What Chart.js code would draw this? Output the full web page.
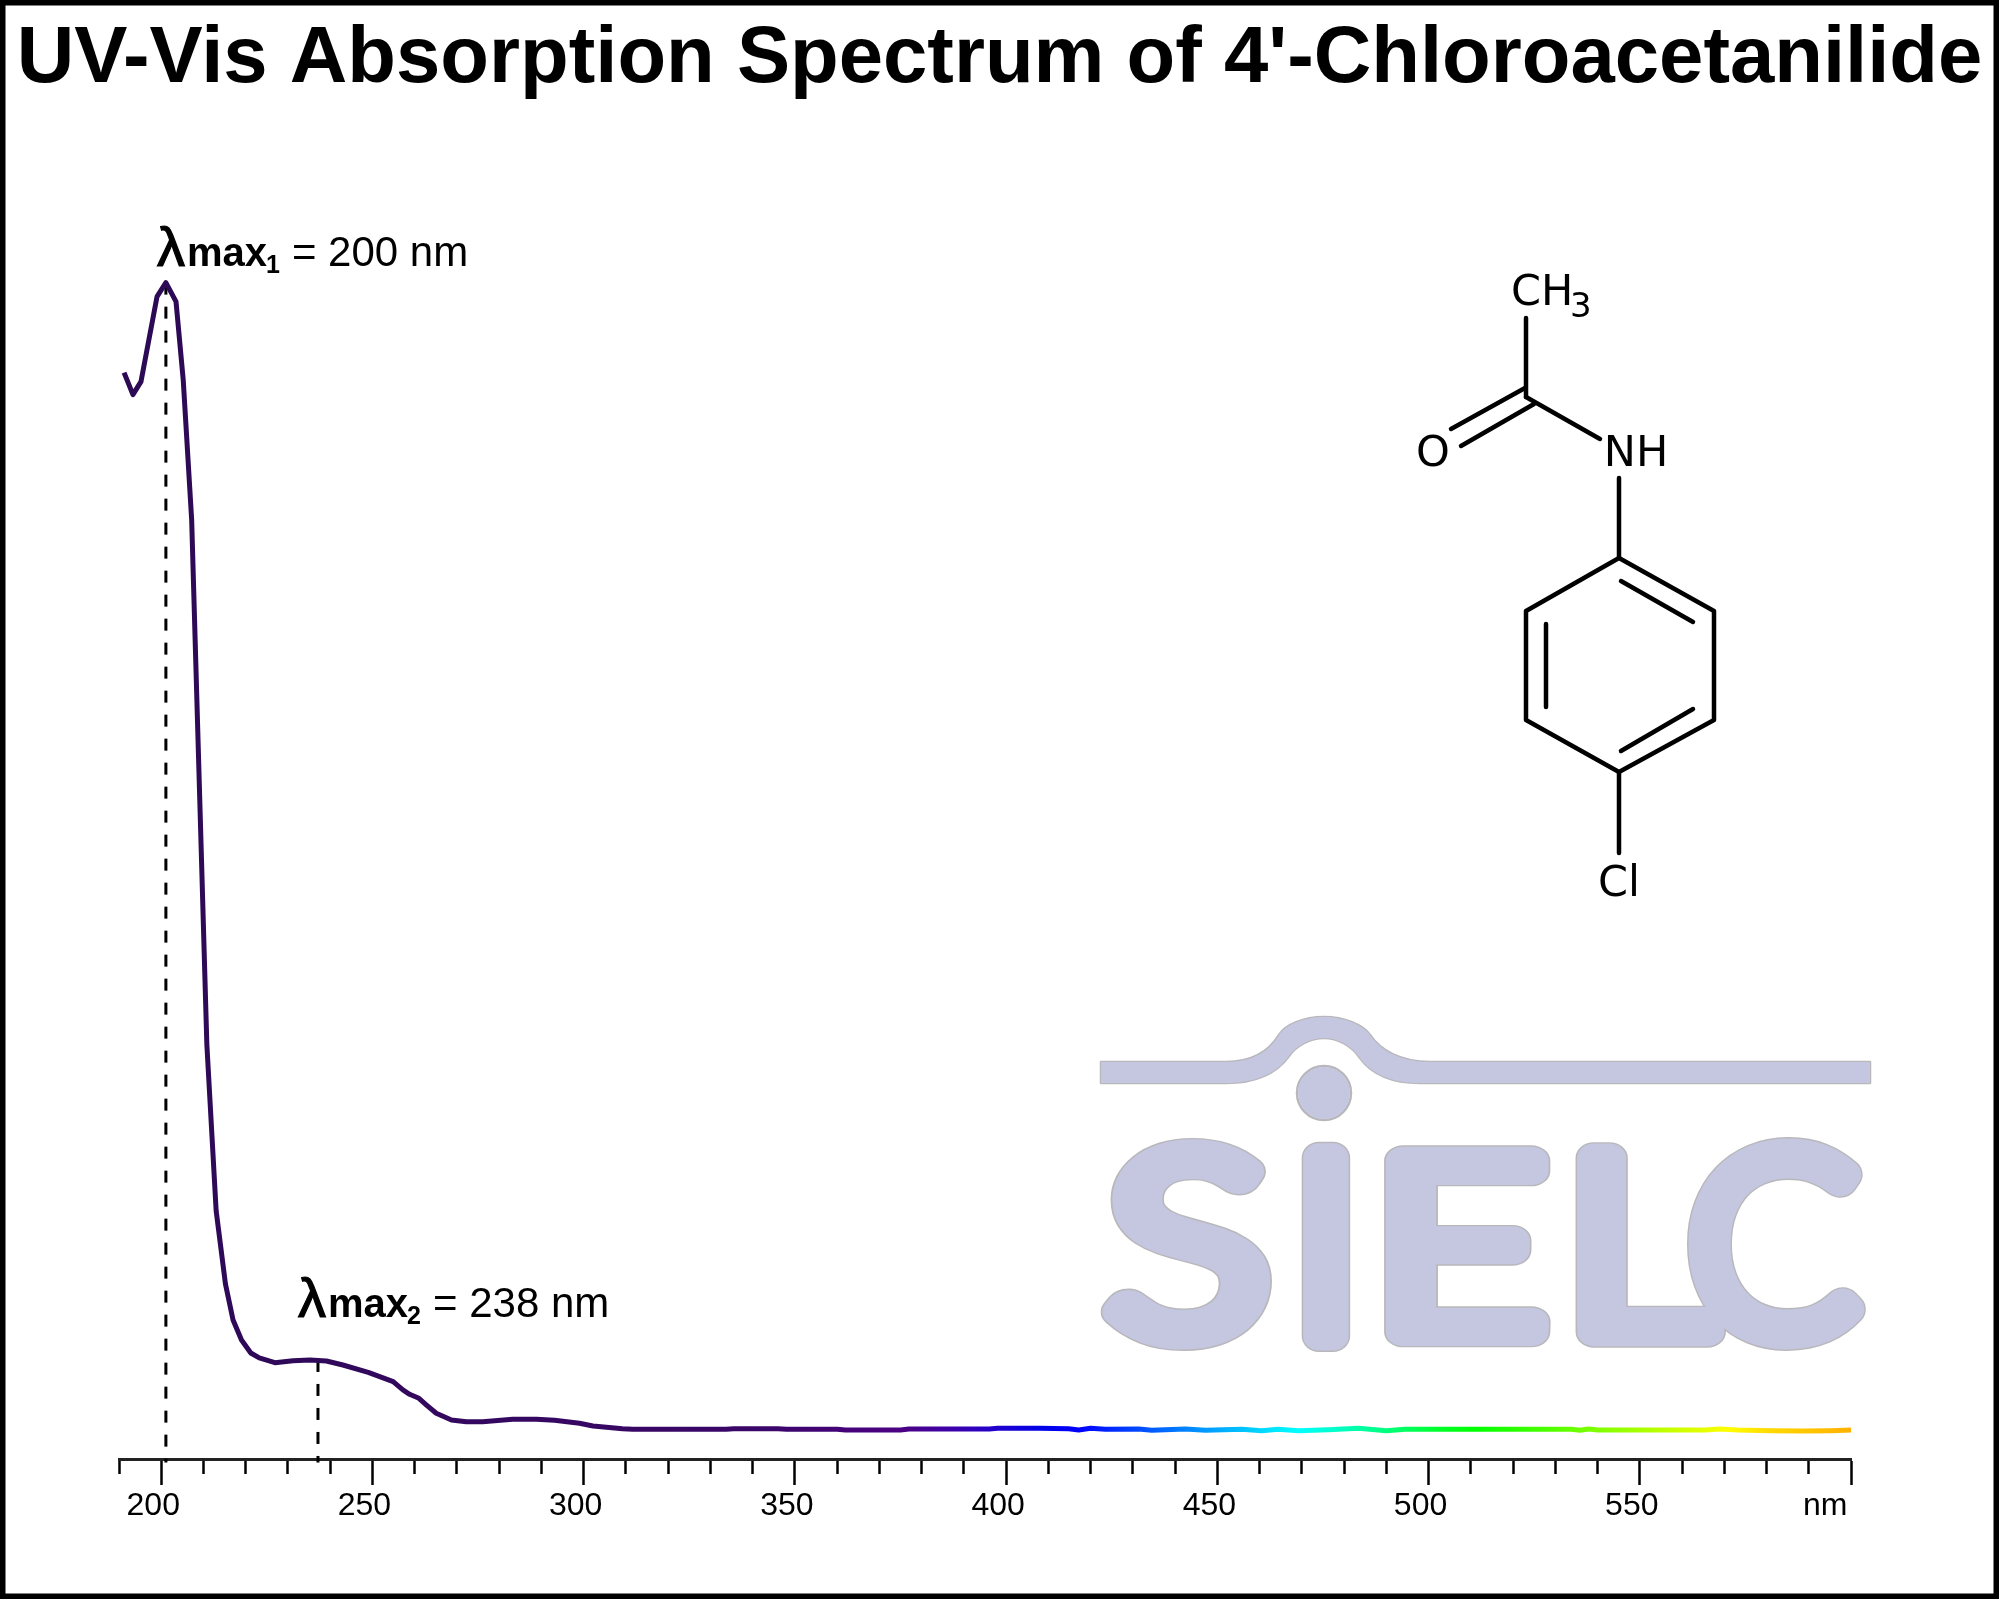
<!DOCTYPE html>
<html>
<head>
<meta charset="utf-8">
<title>UV-Vis Absorption Spectrum of 4'-Chloroacetanilide</title>
<script src="https://cdn.jsdelivr.net/npm/chart.js@4/dist/chart.umd.min.js"></script>
<style>
  html, body { margin: 0; padding: 0; background: #fff; }
  canvas { display: block; }
</style>
</head>
<body>
<canvas id="spectrum" width="1999" height="1599"></canvas>
<script>
const titleText = "UV-Vis Absorption Spectrum of 4'-Chloroacetanilide";

// Spectrum (absorbance normalised to the first peak)
const wavelengths = [
  191.2, 193.3, 195.2, 199.0, 201.1, 203.5, 205.2, 207.2, 210.8, 213.0, 215.2, 217.0,
  219.0, 221.2, 223.2, 226.9, 231.2, 235.2, 239.1, 243.0, 249.0, 254.9, 257.2, 258.8,
  261.0, 262.8, 265.1, 268.7, 272.2, 276.1, 283.2, 288.8, 293.1, 299.0, 302.2, 309.2,
  311.6, 333.7, 335.5, 346.0, 348.0, 360.0, 362.0, 375.0, 377.0, 396.0, 398.0, 408.0,
  414.8, 417.2, 420.0, 423.5, 431.4, 434.5, 442.4, 447.2, 455.8, 460.5, 464.4, 469.2,
  476.3, 483.4, 490.0, 494.4, 504.6, 533.8, 535.8, 537.8, 540.1, 565.4, 568.9, 573.2,
  581.0, 589.0, 595.2, 600.0
];
const absorbance = [
  0.9235, 0.9048, 0.9158, 0.9881, 1.0, 0.9838, 0.9175, 0.7985, 0.3520, 0.2109, 0.1488, 0.1182,
  0.1012, 0.0901, 0.0859, 0.0819, 0.0836, 0.0842, 0.0833, 0.0799, 0.0737, 0.0657, 0.0587, 0.0550,
  0.0516, 0.0459, 0.0389, 0.0332, 0.0317, 0.0317, 0.0338, 0.0338, 0.0329, 0.0304, 0.0281, 0.0258,
  0.0253, 0.0253, 0.0258, 0.0258, 0.0253, 0.0253, 0.0247, 0.0247, 0.0255, 0.0255, 0.0261, 0.0261,
  0.0258, 0.0247, 0.0261, 0.0253, 0.0255, 0.0244, 0.0255, 0.0244, 0.0253, 0.0241, 0.0253, 0.0241,
  0.0249, 0.0261, 0.0241, 0.0253, 0.0253, 0.0253, 0.0244, 0.0255, 0.0247, 0.0247, 0.0255, 0.0247,
  0.0241, 0.0238, 0.0241, 0.0247
];

// Dashed drop lines and their labels
const peakWavelengths = [201.1, 237.1];
const peakHeights = [1.0, 0.0842];
const peakIndex = ['1', '2'];
const peakText = ['= 200 nm', '= 238 nm'];

// Colour of the trace along the wavelength axis
const colorStops = [190, 340, 375, 387, 397, 408, 417, 445, 469, 483, 504, 511, 536, 564, 571, 581, 600];
const colorValues = [
  '#2c0a54', '#3a0668', '#4b0082', '#3d00aa', '#2200cc', '#0000e8', '#0000ff', '#0090ff', '#00ffff',
  '#00ffaa', '#00ff20', '#00ff00', '#70ff00', '#e0ff00', '#ffff00', '#ffd800', '#ffb000'
];

const majorTicks = [200, 250, 300, 350, 400, 450, 500, 550, 600];
const tickLabels = ['200', '250', '300', '350', '400', '450', '500', '550', 'nm    '];

const SANS = '"Liberation Sans", Arial, sans-serif';

function line(ctx, x1, y1, x2, y2) {
  ctx.beginPath();
  ctx.moveTo(x1, y1);
  ctx.lineTo(x2, y2);
  ctx.stroke();
}

// Structure drawing, top right
function drawMolecule(ctx) {
  ctx.save();
  ctx.strokeStyle = '#000';
  ctx.lineWidth = 4.5;
  ctx.lineCap = 'round';
  ctx.lineJoin = 'round';
  line(ctx, 1526, 318, 1526, 397);
  line(ctx, 1451, 429, 1525, 388);
  line(ctx, 1461, 446, 1534, 404);
  line(ctx, 1526, 397, 1600, 439);
  line(ctx, 1619, 478, 1619, 558);
  ctx.beginPath();
  ctx.moveTo(1619, 558);
  ctx.lineTo(1714, 611);
  ctx.lineTo(1714, 720);
  ctx.lineTo(1619, 772);
  ctx.lineTo(1526, 720);
  ctx.lineTo(1526, 611);
  ctx.closePath();
  ctx.stroke();
  line(ctx, 1621, 581, 1693, 622);
  line(ctx, 1546, 624, 1546, 707);
  line(ctx, 1621, 751, 1693, 709);
  line(ctx, 1619, 772, 1619, 853);

  ctx.fillStyle = '#000';
  ctx.font = '43px "DejaVu Sans"';
  ctx.textAlign = 'center';
  ctx.textBaseline = 'alphabetic';
  ctx.fillText('O', 1433, 466);
  ctx.fillText('NH', 1636, 466);
  ctx.fillText('Cl', 1619, 896);
  ctx.textAlign = 'left';
  ctx.fillText('CH', 1511, 305);
  ctx.font = '34px "DejaVu Sans"';
  ctx.fillText('3', 1570, 317);
  ctx.restore();
}

function swooshPath(ctx) {
  ctx.beginPath();
  ctx.moveTo(1101, 1062);
  ctx.lineTo(1226, 1062);
  ctx.bezierCurveTo(1255, 1062, 1270, 1050, 1279, 1035);
  ctx.bezierCurveTo(1285, 1025, 1304, 1017, 1324, 1017);
  ctx.bezierCurveTo(1344, 1017, 1363, 1025, 1370, 1035);
  ctx.bezierCurveTo(1380, 1050, 1400, 1062, 1430, 1062);
  ctx.lineTo(1870, 1062);
  ctx.lineTo(1870, 1083);
  ctx.lineTo(1420, 1083);
  ctx.bezierCurveTo(1390, 1083, 1371, 1073, 1360, 1058);
  ctx.bezierCurveTo(1352, 1046, 1338, 1038, 1324, 1038);
  ctx.bezierCurveTo(1310, 1038, 1296, 1046, 1289, 1056);
  ctx.bezierCurveTo(1276, 1074, 1255, 1083, 1226, 1083);
  ctx.lineTo(1101, 1083);
  ctx.closePath();
}

// Place one logo letter so that its outer edge, stroke included, fills the box
function logoLetter(ctx, ch, left, top, right, bottom, width, fill) {
  const halo = 15;
  const m = ctx.measureText(ch);
  const gw = m.actualBoundingBoxLeft + m.actualBoundingBoxRight;
  const gh = m.actualBoundingBoxAscent + m.actualBoundingBoxDescent;
  const sx = (right - left - 2 * halo) / gw;
  const sy = (bottom - top - 2 * halo) / gh;
  ctx.save();
  ctx.translate(left + halo + m.actualBoundingBoxLeft * sx, top + halo + m.actualBoundingBoxAscent * sy);
  ctx.scale(sx, sy);
  ctx.lineWidth = width;
  ctx.strokeText(ch, 0, 0);
  if (fill) ctx.fillText(ch, 0, 0);
  ctx.restore();
}

function drawLogo(ctx) {
  const letters = [
    ['S', 1101, 1138, 1269, 1352],
    ['I', 1301, 1140, 1348, 1351],
    ['E', 1385, 1143, 1547, 1347],
    ['L', 1576, 1140, 1725, 1347],
    ['C', 1685, 1138, 1868, 1352]
  ];
  ctx.save();
  ctx.font = '300 260px Lato, ' + SANS;
  ctx.textAlign = 'left';
  ctx.textBaseline = 'alphabetic';
  ctx.lineJoin = 'round';

  ctx.strokeStyle = '#b8b8bc';
  ctx.lineWidth = 2.5;
  swooshPath(ctx);
  ctx.stroke();
  ctx.beginPath();
  ctx.arc(1324, 1093, 27, 0, Math.PI * 2);
  ctx.stroke();
  letters.forEach(l => logoLetter(ctx, l[0], l[1], l[2], l[3], l[4], 33, false));

  ctx.fillStyle = '#c5c6e0';
  ctx.strokeStyle = '#c5c6e0';
  swooshPath(ctx);
  ctx.fill();
  ctx.beginPath();
  ctx.arc(1324, 1093, 26, 0, Math.PI * 2);
  ctx.fill();
  letters.forEach(l => logoLetter(ctx, l[0], l[1], l[2], l[3], l[4], 30, true));
  ctx.restore();
}

function drawPeakLabel(ctx, x, baseline, index, text) {
  ctx.save();
  ctx.fillStyle = '#000';
  ctx.strokeStyle = '#000';
  ctx.textAlign = 'left';
  ctx.textBaseline = 'alphabetic';
  ctx.font = '56px ' + SANS;
  ctx.lineWidth = 1.2;
  ctx.fillText('λ', x, baseline);
  ctx.strokeText('λ', x, baseline);
  ctx.font = 'bold 40px ' + SANS;
  ctx.fillText('max', x + 30, baseline);
  ctx.font = 'bold 25px ' + SANS;
  ctx.fillText(index, x + 109, baseline + 7);
  ctx.font = '42px ' + SANS;
  ctx.fillText(text, x + 135, baseline);
  ctx.restore();
}

const decorations = {
  id: 'decorations',
  beforeDraw(chart) {
    const ctx = chart.ctx;
    ctx.save();
    ctx.fillStyle = '#fff';
    ctx.fillRect(0, 0, chart.width, chart.height);
    ctx.strokeStyle = '#000';
    ctx.lineWidth = 11;
    ctx.strokeRect(0, 0, chart.width, chart.height);
    ctx.restore();
  },
  beforeDatasetsDraw(chart) {
    drawLogo(chart.ctx);
    drawMolecule(chart.ctx);
  },
  afterDatasetsDraw(chart) {
    const x = chart.scales.x;
    drawPeakLabel(chart.ctx, x.getPixelForValue(peakWavelengths[0]) - 9, 266, peakIndex[0], peakText[0]);
    drawPeakLabel(chart.ctx, x.getPixelForValue(peakWavelengths[1]) - 20, 1317, peakIndex[1], peakText[1]);
  }
};

function traceGradient(context) {
  const chart = context.chart;
  if (!chart.chartArea) return colorValues[0];
  const x = chart.scales.x;
  const x0 = x.getPixelForValue(colorStops[0]);
  const x1 = x.getPixelForValue(colorStops[colorStops.length - 1]);
  const g = chart.ctx.createLinearGradient(x0, 0, x1, 0);
  colorStops.forEach((nm, i) => {
    g.addColorStop((nm - colorStops[0]) / (colorStops[colorStops.length - 1] - colorStops[0]), colorValues[i]);
  });
  return g;
}

function dropLine(i) {
  return {
    data: [{ x: peakWavelengths[i], y: peakHeights[i] }, { x: peakWavelengths[i], y: -0.003 }],
    borderColor: '#000',
    borderWidth: 3,
    borderDash: [12, 12],
    pointRadius: 0,
    clip: false
  };
}

new Chart(document.getElementById('spectrum'), {
  type: 'line',
  plugins: [decorations],
  data: {
    datasets: [
      {
        data: wavelengths.map((nm, i) => ({ x: nm, y: absorbance[i] })),
        borderColor: traceGradient,
        borderWidth: 5,
        borderJoinStyle: 'round',
        pointRadius: 0,
        tension: 0,
        clip: false
      },
      dropLine(0),
      dropLine(1)
    ]
  },
  options: {
    responsive: false,
    animation: false,
    plugins: {
      legend: { display: false },
      tooltip: { enabled: false },
      title: {
        display: true,
        text: titleText,
        color: '#000',
        font: { family: SANS, size: 79.7, weight: 'bold' },
        padding: { top: 12, bottom: 175 }
      }
    },
    scales: {
      x: {
        type: 'linear',
        min: 190,
        max: 600,
        afterFit: scale => { scale.height = 140; },
        border: { display: true, color: '#222', width: 3 },
        grid: {
          drawOnChartArea: false,
          drawTicks: true,
          tickLength: 26,
          tickWidth: 2.5,
          tickColor: '#000',
          // only the 50 nm ticks keep their full length
          tickBorderDash: ctx => (majorTicks.includes(ctx.tick.value) ? [] : [13, 60])
        },
        ticks: {
          stepSize: 10,
          autoSkip: false,
          maxRotation: 0,
          padding: 2,
          labelOffset: -8,
          color: '#000',
          font: { family: SANS, size: 32 },
          callback: value => {
            const i = majorTicks.indexOf(value);
            return i < 0 ? '' : tickLabels[i];
          }
        }
      },
      // both y axes are invisible, they only hold the plot inside its margins
      y: {
        min: 0,
        max: 1,
        ticks: { display: false },
        grid: { display: false },
        border: { display: false },
        afterFit: scale => { scale.width = 119; }
      },
      yRight: {
        axis: 'y',
        position: 'right',
        ticks: { display: false },
        grid: { display: false },
        border: { display: false },
        afterFit: scale => { scale.width = 148; }
      }
    }
  }
});
</script>
</body>
</html>
